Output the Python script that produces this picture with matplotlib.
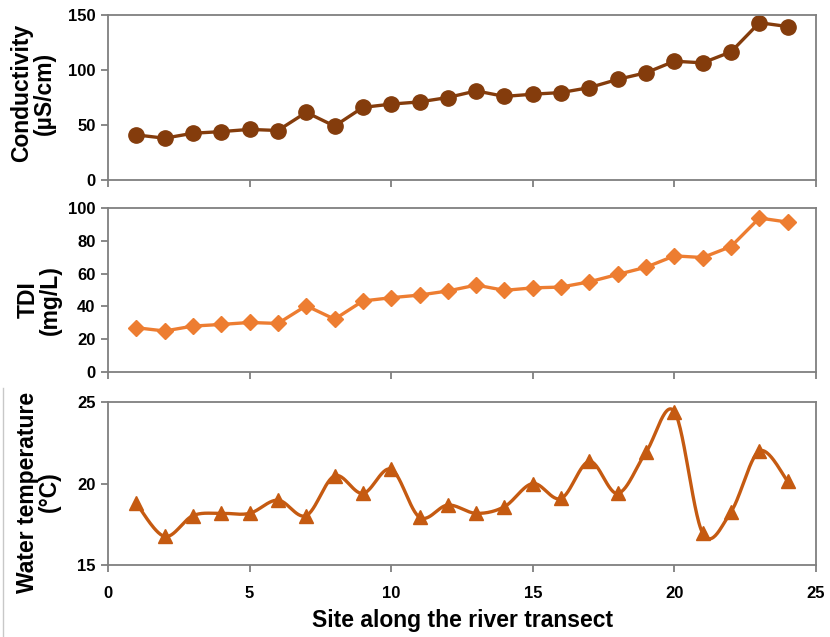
import numpy as np
import matplotlib
matplotlib.use("Agg")
import matplotlib.pyplot as plt
from matplotlib.lines import Line2D

plt.rcParams['font.family'] = ['Liberation Sans', 'DejaVu Sans']
plt.rcParams['font.weight'] = 'bold'

sites = list(range(1, 25))
conductivity = [41, 38, 42.5, 44, 46, 45, 61.5, 49, 66, 69, 71, 75, 81, 76, 78, 79.5,
                84, 91.5, 97.5, 108, 106.5, 116.5, 143, 139.5]
tdi = [27, 25, 28, 29, 30.2, 29.6, 40.4, 32.2, 43.3, 45.3, 46.9, 49.4, 53, 49.8, 51.3, 51.8,
       55, 59.5, 63.9, 70.8, 69.8, 76.5, 93.9, 91.4]
water_temp = [18.78, 16.75, 18.03, 18.17, 18.17, 18.98, 18.03, 20.47, 19.39, 20.87, 17.93, 18.68,
              18.17, 18.58, 20.0, 19.08, 21.36, 19.39, 21.93, 24.41, 16.95, 18.27, 21.99, 20.14]

c1, c2, c3 = '#843C0C', '#ED7D31', '#C55A11'
spine_col = '#7f7f7f'


def smooth(x, y, n=30):
    """Excel-style smoothed line (Catmull-Rom / Bezier with 1/6 tension)."""
    P = np.column_stack([x, y]).astype(float)
    Pe = np.vstack([P[0], P, P[-1]])
    out = []
    t = np.linspace(0, 1, n)[:, None]
    for i in range(len(P) - 1):
        p0, p1, p2, p3 = Pe[i], Pe[i + 1], Pe[i + 2], Pe[i + 3]
        b1 = p1 + (p2 - p0) / 6
        b2 = p2 - (p3 - p1) / 6
        seg = ((1 - t) ** 3) * p1 + 3 * ((1 - t) ** 2) * t * b1 + 3 * (1 - t) * t ** 2 * b2 + t ** 3 * p2
        out.append(seg if i == 0 else seg[1:])
    S = np.vstack(out)
    return S[:, 0], S[:, 1]


fig = plt.figure(figsize=(8.3, 6.37), dpi=100)
W, H = 830, 637
left = 108 / W
width = (816 - 108) / W


def make_ax(top, bottom):
    return fig.add_axes([left, 1 - bottom / H, width, (bottom - top) / H])


ax1 = make_ax(15, 180)
ax2 = make_ax(208, 372)
ax3 = make_ax(402, 565)

ax1.plot(sites, conductivity, color=c1, lw=2.4, marker='o', ms=11, mec=c1, mfc=c1)
ax2.plot(sites, tdi, color=c2, lw=2.4, marker='D', ms=8.5, mec=c2, mfc=c2)
sx, sy = smooth(sites, water_temp)
ax3.plot(sx, sy, color=c3, lw=2.4)
ax3.plot(sites, water_temp, ls='none', marker='^', ms=10.5, mec=c3, mfc=c3)

ax1.set_ylim(0, 150)
ax1.set_yticks([0, 50, 100, 150])
ax2.set_ylim(0, 100)
ax2.set_yticks([0, 20, 40, 60, 80, 100])
ax3.set_ylim(15, 25)
ax3.set_yticks([15, 20, 25])

for ax in (ax1, ax2, ax3):
    ax.set_xlim(0, 25)
    ax.set_xticks([0, 5, 10, 15, 20, 25])
    for s in ax.spines.values():
        s.set_color(spine_col)
        s.set_linewidth(1.3)
    ax.tick_params(axis='both', direction='out', length=5, width=1.3, color=spine_col,
                   labelsize=12, pad=4)
    for lab in ax.get_yticklabels():
        lab.set_fontweight('bold')

ax1.set_xticklabels([])
ax2.set_xticklabels([])
for lab in ax3.get_xticklabels():
    lab.set_fontweight('bold')
ax3.tick_params(axis='x', pad=10)

lab_kw = dict(rotation=90, ha='center', va='center', multialignment='center',
              fontsize=16.5, fontweight='bold', linespacing=0.95)
fig.text(33 / W, 1 - 93 / H, 'Conductivity\n(µS/cm)', **lab_kw)
fig.text(39.5 / W, 1 - 300 / H, 'TDI\n(mg/L)', **lab_kw)
fig.text(38.5 / W, 1 - 492 / H, 'Water temperature\n(°C)', **lab_kw)

fig.text(463 / W, 1 - 621 / H, 'Site along the river transect', ha='center', va='center',
         fontsize=16.5, fontweight='bold')

fig.add_artist(Line2D([3 / W, 3 / W], [0, 1 - 388 / H], transform=fig.transFigure,
                      color='#c8c8c8', lw=1))

fig.savefig('out.png', dpi=100)
